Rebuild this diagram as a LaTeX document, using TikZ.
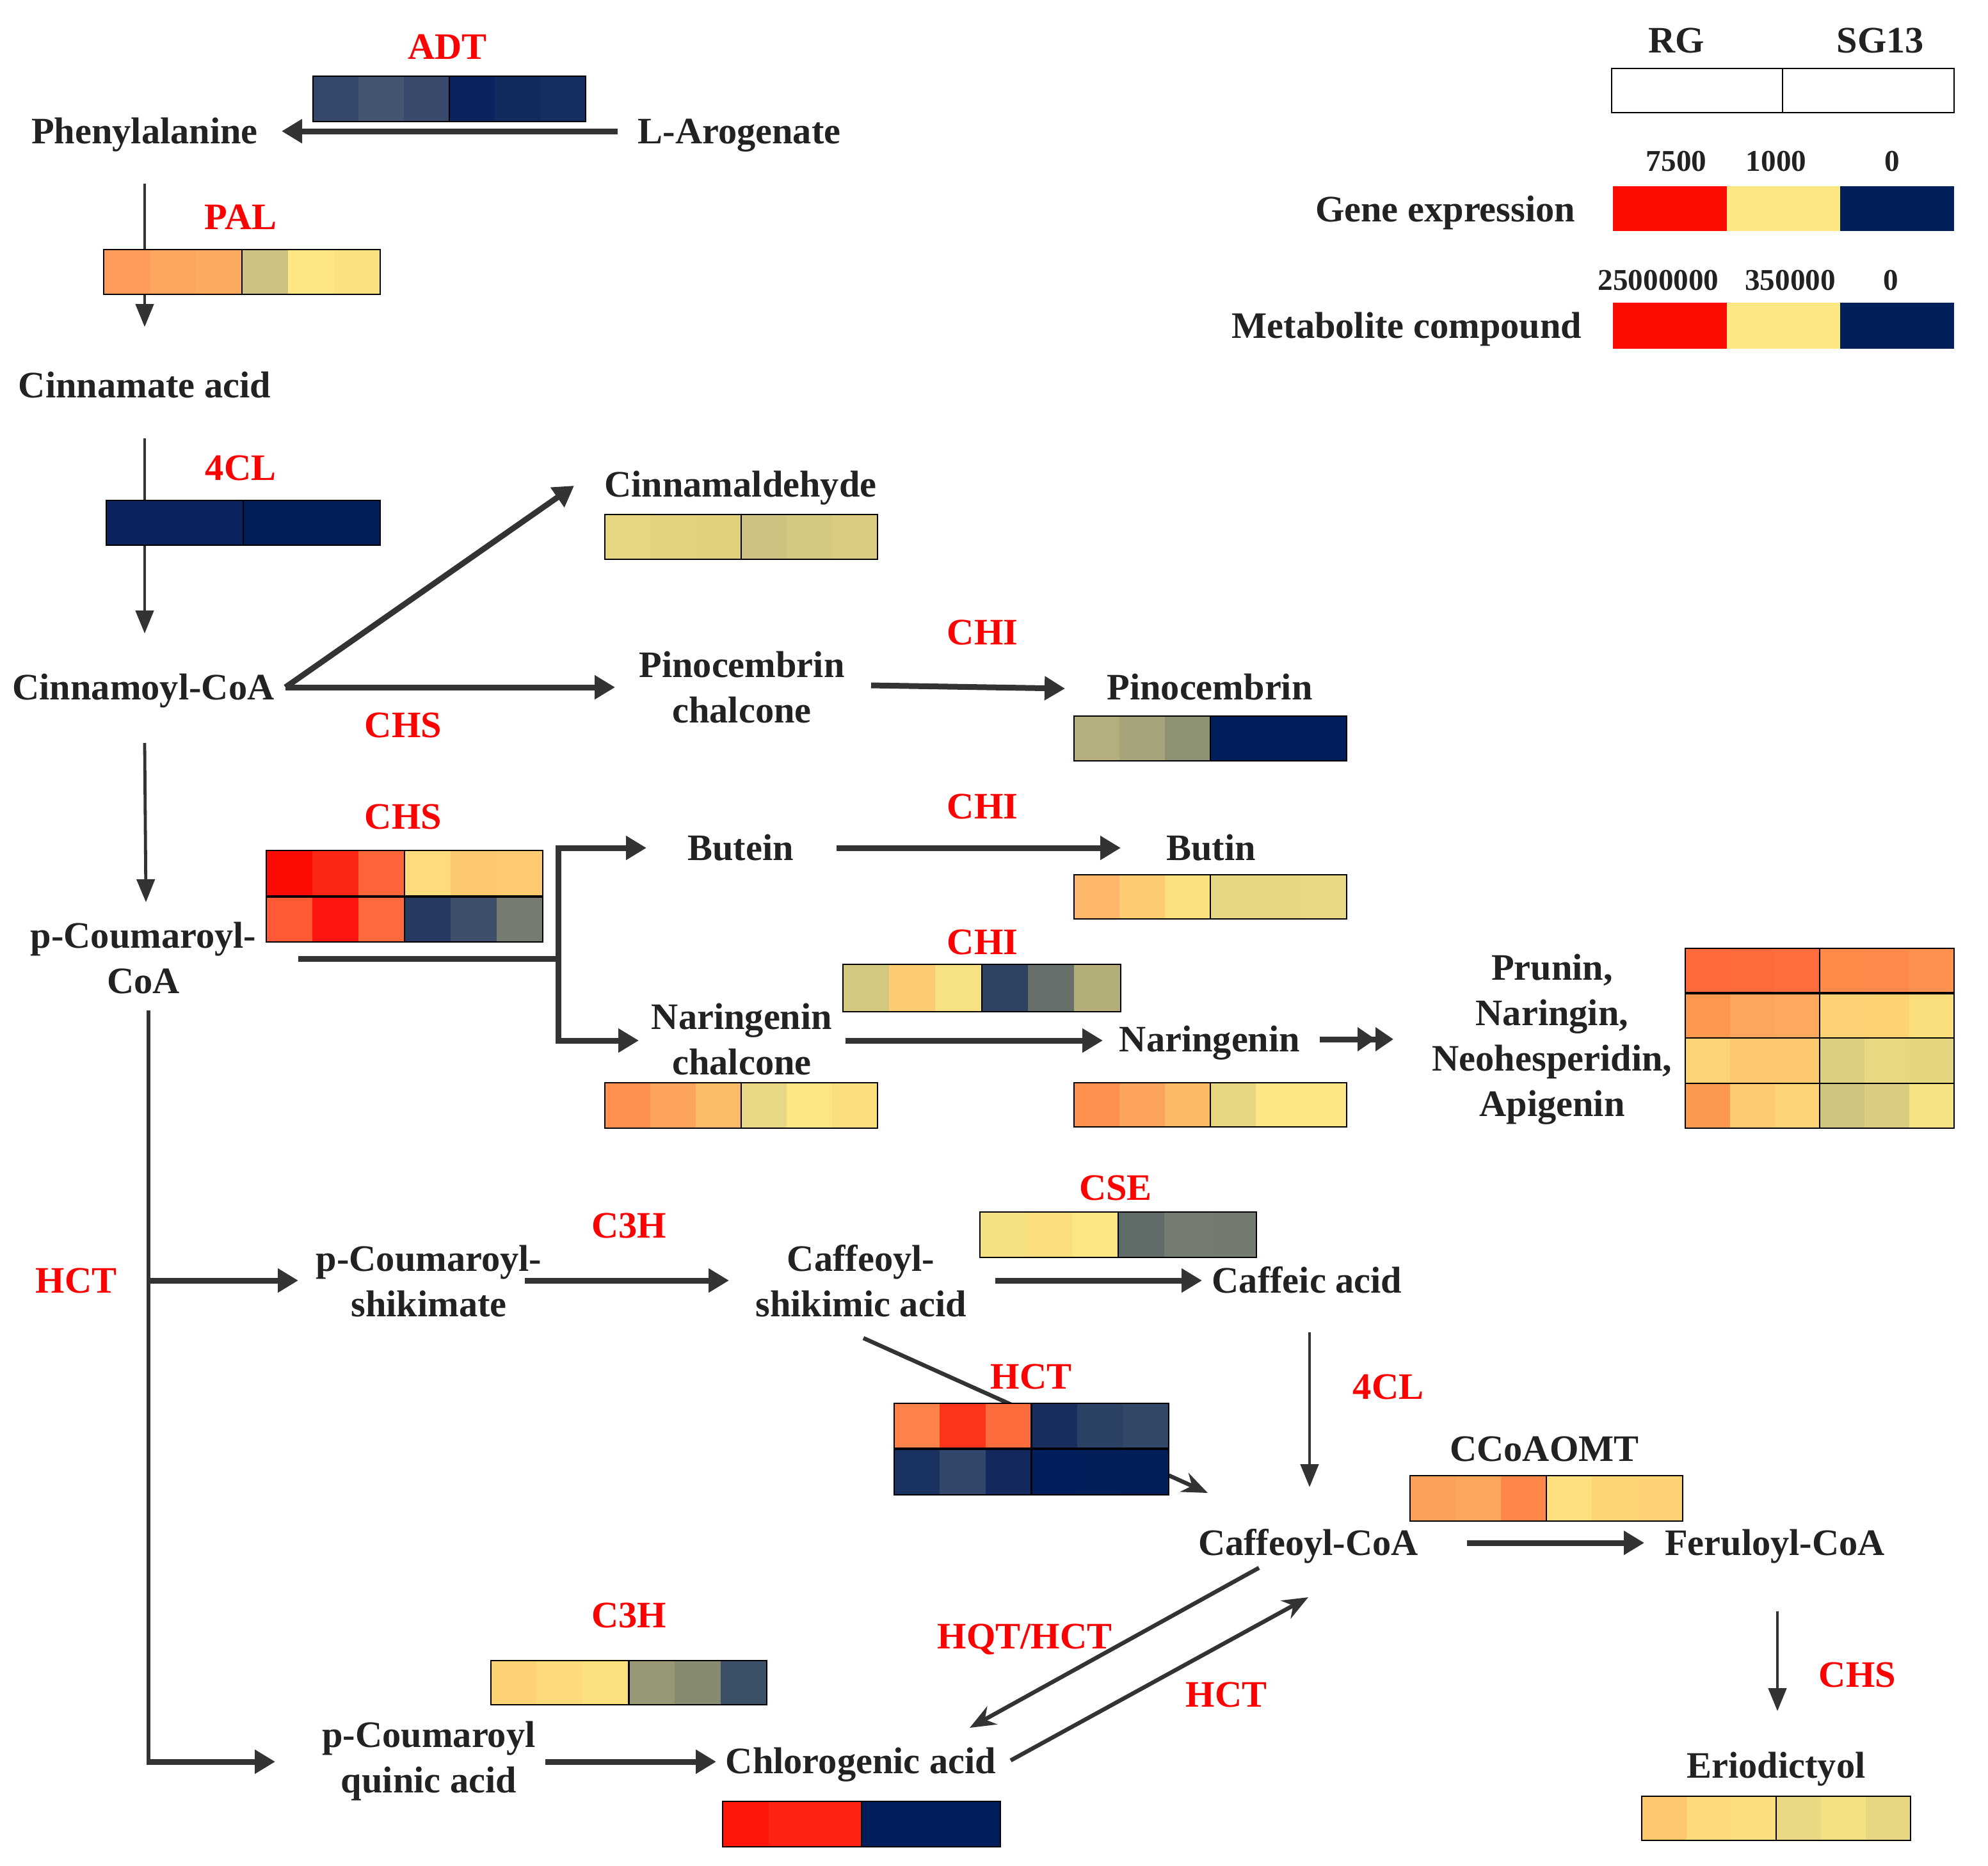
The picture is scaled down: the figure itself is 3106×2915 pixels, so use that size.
\documentclass[tikz,border=0pt]{standalone}
\usepackage{fontspec}
\setmainfont{Liberation Serif}
\usetikzlibrary{arrows.meta,calc}
\definecolor{txt}{HTML}{222222}
\definecolor{arr}{HTML}{333333}
\definecolor{enz}{HTML}{FF0000}
\newcommand\lblfont{\fontsize{14.6pt}{17.75pt}\selectfont\bfseries}
\newcommand\numfont{\fontsize{11.8pt}{14pt}\selectfont\bfseries}
\newcommand\hmrow[5]{%
  \foreach \hmcol [count=\hmi from 0] in {#5}{%
    \definecolor{hmc}{HTML}{\hmcol}%
    \fill[hmc] ({#1+\hmi*(#3-#1)/6-0.5},#2) rectangle ({#1+(\hmi+1)*(#3-#1)/6+0.5},#4);
  }%
}
\newcommand\hmframe[4]{%
  \draw[hmline] (#1,#2) rectangle (#3,#4);
  \draw[hmline] ({(#1+#3)/2},#2) -- ({(#1+#3)/2},#4);
}
\tikzset{
  lbl/.style={font=\lblfont, text=txt, inner sep=0pt, align=center},
  one/.style={font=\lblfont, text=txt, inner sep=0pt, text height=9.6pt, text depth=0pt},
  enzl/.style={font=\lblfont, text=enz, inner sep=0pt, text height=9.6pt, text depth=0pt},
  numl/.style={font=\numfont, text=txt, inner sep=0pt},
  thickarr/.style={draw=arr, line width=2.25pt, -{Triangle[length=8pt,width=9pt]}},
  thickline/.style={draw=arr, line width=2.25pt},
  mainline/.style={draw=arr, line width=1.6pt},
  thinarr/.style={draw=arr, line width=1.2pt, -{Triangle[length=9pt,width=7pt]}},
  diagarr/.style={draw=arr, line width=1.6pt, -{Stealth[length=10pt,width=8pt]}},
  dblarr/.style={draw=arr, line width=2.25pt, -{Triangle[length=7pt,width=9pt] Triangle[length=7pt,width=9pt]}},
  hmline/.style={draw=black, line width=0.7pt}
}
\begin{document}
\begin{tikzpicture}[x=0.25pt, y=-0.25pt]
\useasboundingbox (0,0) rectangle (3106,2915);

% ---------- text nodes ----------
\node[enzl] (adt) at (699,73) {ADT};
\node[one] (phe) at (226,205) {Phenylalanine};
\node[one] (laro) at (1155,205) {L-Arogenate};
\node[enzl] (pal) at (376,339) {PAL};
\node[one] (cinn) at (226,602) {Cinnamate acid};
\node[enzl] (cl1) at (376,731) {4CL};
\node[one] (cnc) at (224,1074) {Cinnamoyl-CoA};
\node[one] (cald) at (1157,757) {Cinnamaldehyde};
\node[lbl] (pch) at (1159,1074) {Pinocembrin\\chalcone};
\node[enzl] (chs1) at (630,1133) {CHS};
\node[enzl] (chi1) at (1535,988) {CHI};
\node[one] (pino) at (1890,1074) {Pinocembrin};
\node[enzl] (chs2) at (630,1276) {CHS};
\node[lbl] (pcoa) at (224,1497) {p-Coumaroyl-\\CoA};
\node[one] (butein) at (1157,1325) {Butein};
\node[enzl] (chi2) at (1535,1260) {CHI};
\node[one] (butin) at (1892,1325) {Butin};
\node[enzl] (chi3) at (1535,1472) {CHI};
\node[lbl] (nch) at (1159,1624) {Naringenin\\chalcone};
\node[one] (nar) at (1890,1624) {Naringenin};
\node[lbl] (prun) at (2425,1624) {Prunin,\\Naringin,\\Neohesperidin,\\Apigenin};
\node[enzl] (cse) at (1743,1856) {CSE};
\node[enzl] (hct1) at (119,2001) {HCT};
\node[lbl] (pcs) at (670,2002) {p-Coumaroyl-\\shikimate};
\node[enzl] (c3h1) at (983,1915) {C3H};
\node[lbl] (csa) at (1345,2002) {Caffeoyl-\\shikimic acid};
\node[one] (caf) at (2042,2001) {Caffeic acid};
\node[enzl] (cl2) at (2169,2167) {4CL};
\node[enzl] (hct2) at (1611,2151) {HCT};
\node[one] (ccomt) at (2413,2264) {CCoAOMT};
\node[one] (ccoa) at (2044,2411) {Caffeoyl-CoA};
\node[one] (fer) at (2773,2411) {Feruloyl-CoA};
\node[enzl] (chs3) at (2902,2617) {CHS};
\node[one] (erio) at (2775,2759) {Eriodictyol};
\node[enzl] (c3h2) at (983,2524) {C3H};
\node[lbl] (pcq) at (670,2752) {p-Coumaroyl\\quinic acid};
\node[one] (chl) at (1345,2752) {Chlorogenic acid};
\node[enzl] (hqt) at (1601,2557) {HQT/HCT};
\node[enzl] (hct3) at (1916,2648) {HCT};

% legend text
\node[one] (rg) at (2619,63) {RG};
\node[one] (sg) at (2938,63) {SG13};
\node[numl] (g1) at (2619,252) {7500};
\node[numl] (g2) at (2775,252) {1000};
\node[numl] (g3) at (2956,252) {0};
\node[one, anchor=east] (ge) at (2462,327) {Gene expression};
\node[numl] (m1) at (2591,438) {25000000};
\node[numl] (m2) at (2797,438) {350000};
\node[numl] (m3) at (2954,438) {0};
\node[one, anchor=east] (mc) at (2472,509) {Metabolite compound};

% ---------- junction coordinates ----------
\coordinate (br) at (872,1498);
\coordinate (qc) at (232,2753);
\coordinate (hj) at (232,2001);

% ---------- connectors ----------
\draw[thickarr] ($(laro)+(-190,0)$) -- ($(phe)+(214,0)$);
\draw[thinarr] ($(phe)+(0,82)$) -- ($(cinn)+(0,-91)$);
\draw[thinarr] ($(cinn)+(0,83)$) -- ($(cnc)+(2,-84)$);
\draw[thickarr] ($(cnc)+(222,0)$) -- ($(cald)+(-260,2)$);
\draw[thickarr] ($(cnc)+(222,0)$) -- ($(pch)+(-198,0)$);
\draw[thickarr] ($(pch)+(202,-3)$) -- ($(pino)+(-226,2)$);
\draw[thinarr] ($(cnc)+(2,87)$) -- ($(pcoa)+(4,-87)$);
\draw[thickline] ($(pcoa)+(242,1)$) -- (br);
\draw[thickarr] (br) |- ($(butein)+(-147,0)$);
\draw[thickarr] (br) |- ($(nch)+(-161,2)$);
\draw[thickarr] ($(butein)+(150,0)$) -- ($(butin)+(-141,0)$);
\draw[thickarr] ($(nch)+(162,2)$) -- ($(nar)+(-167,2)$);
\draw[dblarr] ($(nar)+(172,0)$) -- ($(prun)+(-248,0)$);
\draw[mainline] ($(pcoa)+(8,82)$) -- ($(qc)+(0,4)$);
\draw[thickarr] ($(qc)+(-3,0)$) -- ($(pcq)+(-240,1)$);
\draw[thickarr] (hj) -- ($(pcs)+(-204,-1)$);
\draw[thickarr] ($(pcs)+(150,-1)$) -- ($(csa)+(-206,-1)$);
\draw[thickarr] ($(csa)+(210,-1)$) -- ($(caf)+(-164,0)$);
\draw[thinarr] ($(caf)+(4,81)$) -- ($(ccoa)+(2,-87)$);
\draw[diagarr] ($(csa)+(4,89)$) -- ($(ccoa)+(-157,-78)$);
\draw[thickarr] ($(ccoa)+(248,0)$) -- ($(fer)+(-204,0)$);
\draw[thinarr] ($(fer)+(4,107)$) -- ($(erio)+(2,-85)$);
\draw[thickarr] ($(pcq)+(182,1)$) -- ($(chl)+(-226,1)$);
\draw[diagarr] ($(ccoa)+(-77,39)$) -- ($(chl)+(170,-52)$);
\draw[diagarr] ($(chl)+(234,-1)$) -- ($(ccoa)+(0,85)$);

% ---------- heatmaps ----------
% ADT
\hmrow{489}{119}{915}{190}{35476A,455470,38496B,0A2461,132A5F,172E61}
\hmframe{489}{119}{915}{190}
% PAL
\hmrow{162}{390}{594}{460}{FF9A5A,FBA65C,FBAA5E,CBC281,FFE685,FDE07F}
\hmframe{162}{390}{594}{460}
% 4CL
\hmrow{166}{782}{594}{852}{0B2460,0A235F,0A235F,011E5B,011E5B,011E5B}
\hmframe{166}{782}{594}{852}
% Cinnamaldehyde
\hmrow{945}{804}{1371}{874}{E5D682,E1D27F,E0D17E,CCC380,D3C87F,D9CC80}
\hmframe{945}{804}{1371}{874}
% Pinocembrin
\hmrow{1678}{1119}{2104}{1189}{B4AF7D,A6A27A,8F9175,001E5B,001E5B,001E5B}
\hmframe{1678}{1119}{2104}{1189}
% CHS (two rows)
\hmrow{416}{1329}{848}{1401}{FE0A04,FE2716,FE643A,FEDB7C,FDC970,FDCA72}
\hmrow{416}{1401}{848}{1472}{FF5A35,FE1510,FE6A3D,263A63,3E4F6A,767B6F}
\hmframe{416}{1329}{848}{1472}
\draw[hmline, line width=1.2pt] (416,1401) -- (848,1401);
% Butin
\hmrow{1678}{1367}{2104}{1436}{FDB66A,FDCC72,FBE07E,E5D783,E5D682,E6D884}
\hmframe{1678}{1367}{2104}{1436}
% CHI
\hmrow{1317}{1507}{1751}{1581}{D3C880,FDCB72,F6E282,2F4262,67706B,B4AF7A}
\hmframe{1317}{1507}{1751}{1581}
% Naringenin chalcone
\hmrow{945}{1692}{1371}{1763}{FD8F4F,FCA35C,FCBB67,E6D884,FCE582,FDDE7E}
\hmframe{945}{1692}{1371}{1763}
% Naringenin
\hmrow{1678}{1692}{2104}{1761}{FD8F4F,FCA45C,FCBA66,E5D781,FCE582,FCE582}
\hmframe{1678}{1692}{2104}{1761}
% Prunin etc. (four rows)
\hmrow{2633}{1482}{3053}{1552}{FF6A3A,FE6B3B,FE6E3C,FF8A48,FF8948,FE914D}
\hmrow{2633}{1552}{3053}{1622}{FD974F,FCA55C,FCA95E,FDD174,FDD273,FBDE7C}
\hmrow{2633}{1622}{3053}{1693}{FDD475,FDC970,FDC970,DAD07F,E6D981,E3D67F}
\hmrow{2633}{1693}{3053}{1763}{FD984F,FDCB71,FDD475,CEC480,DACC80,F5E282}
\hmframe{2633}{1482}{3053}{1763}
\draw[hmline, line width=1.2pt] (2633,1552) -- (3053,1552);
\draw[hmline] (2633,1622) -- (3053,1622);
\draw[hmline] (2633,1693) -- (3053,1693);
% CSE
\hmrow{1531}{1894}{1963}{1965}{F3E184,FCDD7E,FCE682,5F6C68,747B70,737A6F}
\hmframe{1531}{1894}{1963}{1965}
% HCT (two rows)
\hmrow{1397}{2193}{1826}{2264}{FE824A,FE341C,FE6C3E,172E5F,2A4065,334767}
\hmrow{1397}{2264}{1826}{2336}{1B3360,33476A,13295E,001E5B,011F5B,001E5A}
\hmframe{1397}{2193}{1826}{2336}
\draw[hmline, line width=1.2pt] (1397,2264) -- (1826,2264);
% CCoAOMT
\hmrow{2203}{2306}{2629}{2377}{FDA15A,FCA65C,FE8649,FDDF7F,FDD473,FDD274}
\hmframe{2203}{2306}{2629}{2377}
% Eriodictyol
\hmrow{2565}{2807}{2985}{2876}{FDC770,FDDB7C,FCDE7E,EAD984,F3E283,E7D682}
\hmframe{2565}{2807}{2985}{2876}
% C3H
\hmrow{767}{2595}{1198}{2664}{FDD274,FDDA7A,FDE07E,989874,878A71,3B5066}
\hmframe{767}{2595}{1198}{2664}
% Chlorogenic acid
\hmrow{1129}{2815}{1563}{2886}{FE150C,FE2314,FE2314,001E5B,001E5B,001E5B}
\hmframe{1129}{2815}{1563}{2886}

% ---------- legend ----------
\draw[hmline, fill=white] (2518,107) rectangle (3053,176);
\draw[hmline] (2785,107) -- (2785,176);
\definecolor{lgred}{HTML}{FE0B02}
\definecolor{lgyel}{HTML}{FDE783}
\definecolor{lgnav}{HTML}{011F5B}
\fill[lgred] (2520,291) rectangle (2699,361);
\fill[lgyel] (2698,291) rectangle (2876,361);
\fill[lgnav] (2875,291) rectangle (3053,361);
\fill[lgred] (2520,473) rectangle (2699,545);
\fill[lgyel] (2698,473) rectangle (2876,545);
\fill[lgnav] (2875,473) rectangle (3053,545);
\end{tikzpicture}
\end{document}
